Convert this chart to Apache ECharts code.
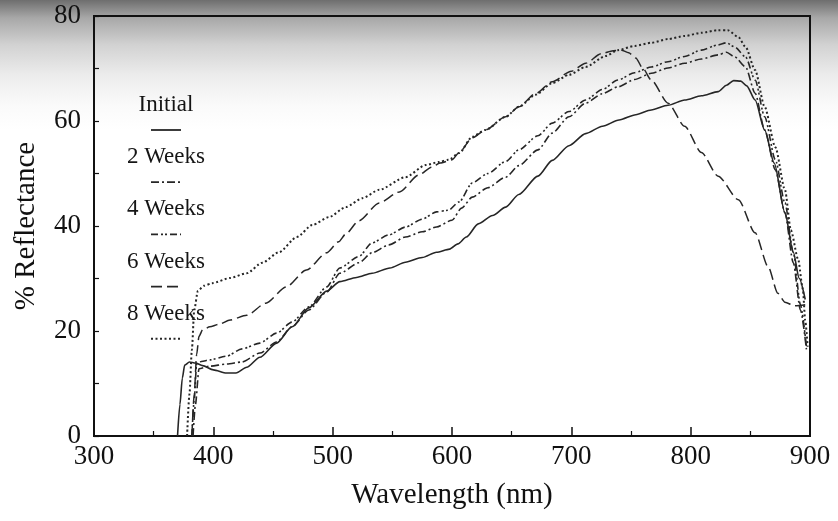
<!DOCTYPE html>
<html>
<head>
<meta charset="utf-8">
<script src="https://cdn.jsdelivr.net/npm/echarts@6/dist/echarts.min.js"></script>
<style>
  html, body { margin: 0; padding: 0; }
  body {
    width: 838px; height: 521px; overflow: hidden;
    background: linear-gradient(to bottom, #6e6e6e 0px, #a8a8a8 18px, #d2d2d2 45px, #ececec 75px, #fafafa 105px, #ffffff 130px);
  }
  #chart { width: 838px; height: 521px; }
</style>
</head>
<body>
<div id="chart"></div>
<script>
// Reflectance spectra over storage time: [wavelength nm, % reflectance]
const seriesNames = ['Initial', '2 Weeks', '4 Weeks', '6 Weeks', '8 Weeks'];

const initialData = [
  [370,0],[372,6],[374,11],[376,13.5],[380,14.1],[385,13.9],[391,13.4],[400,12.6],[411,12.0],[419,12.0],
  [428,13.1],[439,15.0],[453,17.7],[466,20.8],[480,24.4],[495,27.6],[506,29.4],[520,30.2],[533,31.0],
  [548,32.0],[561,33.1],[575,34.0],[587,35.0],[598,35.6],[605,36.6],[612,37.9],[622,40.4],[634,42.0],
  [645,43.6],[656,46.0],[672,49.5],[684,52.5],[698,55.3],[712,57.6],[726,59.0],[740,60.2],[754,61.2],
  [767,62.1],[781,63.0],[795,64.0],[809,64.8],[823,65.6],[830,66.8],[836,67.7],[842,67.6],[847,66.7],
  [854,64.0],[862,58.3],[870,52.0],[879,42.5],[886,35.0],[891,30.0],[896,26.0]
];

const week2Data = [
  [383,0],[385,6],[388,12.8],[397,13.3],[411,13.7],[424,14.1],[439,15.8],[453,17.9],[466,20.8],[480,24.0],
  [495,27.4],[506,31.0],[522,33.0],[533,34.9],[547,36.4],[561,37.9],[575,38.9],[587,39.8],[600,41.1],
  [608,43.4],[617,45.5],[630,47.3],[645,49.3],[656,51.5],[672,54.5],[684,57.7],[698,60.8],[712,63.4],
  [726,65.2],[739,66.5],[753,67.9],[767,69.1],[781,70.1],[795,71.0],[809,71.8],[823,72.6],[830,73.1],
  [837,72.2],[846,70.3],[854,65.3],[862,58.3],[871,50.7],[879,42.5],[886,33.0],[892,24.0],[897,16.5]
];

const week4Data = [
  [382,0],[384,7],[386,13.7],[390,14.2],[397,14.5],[411,15.2],[424,16.6],[439,17.7],[453,19.6],[466,21.7],
  [480,24.6],[495,28.4],[506,32.0],[522,34.2],[533,36.8],[547,38.3],[561,39.8],[575,41.3],[587,42.7],
  [597,43.0],[606,44.6],[617,48.2],[630,50.0],[645,52.3],[656,54.5],[672,57.2],[684,59.6],[698,61.8],
  [712,64.0],[726,66.0],[739,67.8],[753,69.2],[767,70.3],[781,71.3],[795,72.3],[809,73.5],[823,74.5],
  [830,74.9],[837,74.1],[846,72.2],[854,67.8],[862,60.8],[871,52.6],[879,44.4],[886,35.0],[892,25.0],[897,17.0]
];

const week6Data = [
  [382,0],[384,8],[386,15.5],[388,19.0],[391,20.2],[397,20.8],[405,21.3],[414,22.1],[428,23.0],[444,25.3],
  [461,28.4],[478,31.6],[495,34.9],[505,37.0],[511,38.5],[522,41.0],[539,44.4],[556,46.5],[572,49.7],
  [583,51.2],[590,52.0],[600,52.6],[606,54.0],[617,56.8],[628,58.3],[645,60.8],[656,62.7],[670,65.2],
  [684,67.5],[700,69.5],[712,71.0],[725,72.8],[735,73.4],[742,73.5],[748,73.0],[754,72.0],[760,70.0],
  [767,67.8],[781,63.4],[795,59.0],[809,54.0],[823,49.5],[840,45.0],[854,38.7],[865,32.2],[873,27.2],
  [879,25.5],[887,24.8],[896,25.0]
];

const week8Data = [
  [378,0],[380,8],[382,16.4],[384,24.0],[387,27.6],[392,28.6],[399,29.1],[414,30.1],[428,31.0],[441,33.0],
  [455,35.0],[470,37.9],[483,40.2],[497,41.7],[511,43.6],[525,45.3],[539,46.9],[561,49.3],[578,51.6],
  [589,52.2],[597,52.6],[606,53.9],[617,57.0],[628,58.3],[645,60.8],[656,62.7],[670,65.0],[684,67.2],
  [698,68.8],[712,70.3],[729,72.4],[739,73.5],[753,74.3],[767,74.9],[781,75.6],[795,76.2],[809,76.8],
  [823,77.3],[831,77.3],[840,76.0],[846,74.1],[854,69.7],[862,62.7],[871,55.0],[879,46.9],[884,39.2],
  [890,33.7],[894,28.0],[896,22.0],[898,17.0]
];

const xTicks = { min: 300, max: 900, step: 100 };
const yTicks = { min: 0, max: 80, step: 20 };

const allData = [initialData, week2Data, week4Data, week6Data, week8Data];

// Dash patterns for each curve
const dashStyles = [
  'solid',
  [8, 3, 2, 3],
  [7, 3, 2, 2, 2, 3],
  [11, 5],
  [2, 2.5]
];
const lineWidths = [1.6, 1.6, 1.6, 1.5, 2];
const ink = '#262626';
const serif = 'Liberation Serif, Times New Roman, serif';

const chart = echarts.init(document.getElementById('chart'), null, { renderer: 'canvas' });

const series = allData.map((d, i) => ({
  name: seriesNames[i],
  type: 'line',
  data: d,
  showSymbol: false,
  smooth: 0.25,
  smoothMonotone: 'x',
  lineStyle: { color: ink, width: lineWidths[i], type: dashStyles[i] },
  z: 3
}));

// Stacked legend: label with its line sample underneath
const legendX = 166;
const legendTop = 105;
const legendStep = 52.2;
const legendGraphics = [];
seriesNames.forEach((name, i) => {
  const y = legendTop + i * legendStep;
  legendGraphics.push({
    type: 'text',
    x: legendX, y: y,
    style: {
      text: name, font: '23px ' + serif, fill: '#151515',
      textAlign: 'center', textVerticalAlign: 'middle'
    }
  });
  legendGraphics.push({
    type: 'line',
    shape: { x1: legendX - 15, y1: y + 25, x2: legendX + 15, y2: y + 25 },
    style: {
      stroke: ink, lineWidth: i === 4 ? 2 : 1.8,
      lineDash: dashStyles[i] === 'solid' ? null : dashStyles[i]
    }
  });
});

chart.setOption({
  animation: false,
  backgroundColor: 'transparent',
  grid: {
    left: 94, right: 28, top: 16, bottom: 85,
    show: true, borderColor: '#111', borderWidth: 2, backgroundColor: 'transparent'
  },
  xAxis: {
    type: 'value',
    min: xTicks.min, max: xTicks.max, interval: xTicks.step,
    name: 'Wavelength (nm)',
    nameLocation: 'middle', nameGap: 45,
    nameTextStyle: { fontFamily: serif, fontSize: 29, color: '#111' },
    axisLine: { show: true, lineStyle: { color: '#111', width: 2 } },
    axisTick: { show: true, inside: true, length: 9, lineStyle: { color: '#111', width: 1.5 } },
    minorTick: { show: true, splitNumber: 2, length: 5, lineStyle: { color: '#111', width: 1.2 } },
    splitLine: { show: false },
    axisLabel: { fontFamily: serif, fontSize: 27, color: '#111', margin: 7 }
  },
  yAxis: {
    type: 'value',
    min: yTicks.min, max: yTicks.max, interval: yTicks.step,
    name: '% Reflectance',
    nameLocation: 'middle', nameGap: 53, nameRotate: 90,
    nameTextStyle: { fontFamily: serif, fontSize: 29, color: '#111' },
    axisLine: { show: true, lineStyle: { color: '#111', width: 2 } },
    axisTick: { show: true, inside: true, length: 5, lineStyle: { color: '#111', width: 1.2 } },
    minorTick: { show: true, splitNumber: 2, length: 5, lineStyle: { color: '#111', width: 1.2 } },
    splitLine: { show: false },
    axisLabel: { fontFamily: serif, fontSize: 27, color: '#111', margin: 13 }
  },
  graphic: legendGraphics,
  series: series
});
</script>
</body>
</html>
